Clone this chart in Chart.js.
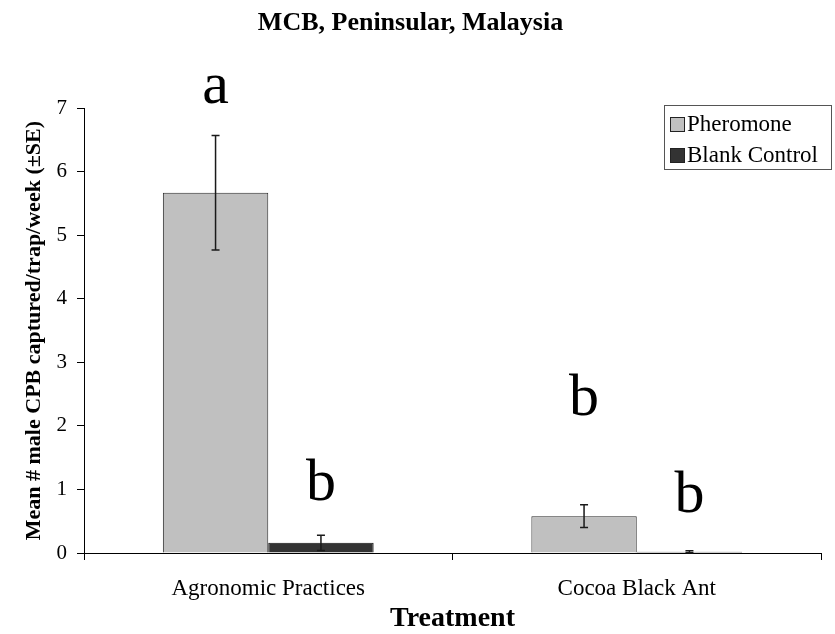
<!DOCTYPE html>
<html>
<head>
<meta charset="utf-8">
<script src="https://cdn.jsdelivr.net/npm/chart.js@4/dist/chart.umd.min.js"></script>
<style>
  html, body { margin: 0; padding: 0; background: #fff; }
  #wrap { width: 835px; height: 634px; }
</style>
</head>
<body>
<div id="wrap"><canvas id="chart" width="835" height="634"></canvas></div>
<script>
const categories = ["Agronomic Practices", "Cocoa Black Ant"];
const pheromone = [5.67, 0.58];
const pheromoneSE = [0.90, 0.18];
const blankControl = [0.16, 0.02];
const blankSE = [0.12, 0.015];
const yTicks = [0, 1, 2, 3, 4, 5, 6, 7];

// significance letters and the value their baseline sits at
const pheromoneLetters = ["a", "b"];
const pheromoneLetterAt = [7.08, 2.17];
const blankLetters = ["b", "b"];
const blankLetterAt = [0.84, 0.64];

const serif = "'Liberation Serif', 'Times New Roman', serif";

const errorBars = {
  id: "errorBars",
  afterDatasetsDraw(chart) {
    const ctx = chart.ctx;
    const y = chart.scales.y;
    ctx.save();
    ctx.strokeStyle = "#1a1a1a";
    ctx.lineWidth = 1.5;
    chart.data.datasets.forEach((ds, i) => {
      chart.getDatasetMeta(i).data.forEach((bar, j) => {
        const top = y.getPixelForValue(ds.data[j] + ds.se[j]);
        const bot = y.getPixelForValue(Math.max(0, ds.data[j] - ds.se[j]));
        ctx.beginPath();
        ctx.moveTo(bar.x, top);
        ctx.lineTo(bar.x, bot);
        ctx.moveTo(bar.x - 4, top);
        ctx.lineTo(bar.x + 4, top);
        ctx.moveTo(bar.x - 4, bot);
        ctx.lineTo(bar.x + 4, bot);
        ctx.stroke();
      });
    });
    ctx.restore();
  }
};

const letterMarks = {
  id: "letterMarks",
  afterDraw(chart) {
    const ctx = chart.ctx;
    const y = chart.scales.y;
    ctx.save();
    ctx.fillStyle = "#000";
    ctx.font = "60px " + serif;
    ctx.textAlign = "center";
    ctx.textBaseline = "alphabetic";
    chart.data.datasets.forEach((ds, i) => {
      chart.getDatasetMeta(i).data.forEach((bar, j) => {
        ctx.fillText(ds.letters[j], bar.x, y.getPixelForValue(ds.letterAt[j]));
      });
    });
    ctx.restore();
  }
};

const boxLegend = {
  id: "boxLegend",
  afterDraw(chart) {
    const ctx = chart.ctx;
    ctx.save();
    ctx.fillStyle = "#fff";
    ctx.fillRect(664, 105, 168, 65);
    ctx.strokeStyle = "#555";
    ctx.lineWidth = 1;
    ctx.strokeRect(664.5, 105.5, 167, 64);
    ctx.font = "23px " + serif;
    ctx.textBaseline = "middle";
    chart.data.datasets.forEach((ds, i) => {
      const rowY = 125 + i * 31;
      ctx.fillStyle = ds.backgroundColor;
      ctx.fillRect(670.5, rowY - 7.5, 14, 14);
      ctx.strokeStyle = "#222";
      ctx.strokeRect(670.5, rowY - 7.5, 14, 14);
      ctx.fillStyle = "#000";
      ctx.fillText(ds.label, 687, rowY);
    });
    ctx.restore();
  }
};

new Chart(document.getElementById("chart"), {
  type: "bar",
  data: {
    labels: categories,
    datasets: [
      {
        label: "Pheromone",
        data: pheromone,
        se: pheromoneSE,
        letters: pheromoneLetters,
        letterAt: pheromoneLetterAt,
        backgroundColor: "#c0c0c0",
        borderColor: "#2a2a2a",
        borderWidth: 1,
        categoryPercentage: 0.572,
        barPercentage: 1.0
      },
      {
        label: "Blank Control",
        data: blankControl,
        se: blankSE,
        letters: blankLetters,
        letterAt: blankLetterAt,
        backgroundColor: "#333333",
        borderColor: "#111111",
        borderWidth: 1,
        categoryPercentage: 0.572,
        barPercentage: 1.0
      }
    ]
  },
  options: {
    responsive: false,
    animation: false,
    layout: {
      padding: { top: 0, right: 14, bottom: 0, left: 0 }
    },
    scales: {
      x: {
        border: { display: true, color: "#000", width: 1 },
        grid: {
          display: true,
          offset: true,
          drawOnChartArea: false,
          drawTicks: true,
          tickLength: 7,
          color: "#000"
        },
        ticks: {
          color: "#000",
          padding: 15,
          font: { family: serif, size: 23 }
        },
        title: {
          display: true,
          text: "Treatment",
          color: "#000",
          padding: { top: 0, bottom: 0 },
          font: { family: serif, size: 28, weight: "bold", lineHeight: 1.1 }
        },
        afterFit(scale) { scale.height = 81; }
      },
      y: {
        min: 0,
        max: 7,
        border: { display: true, color: "#000", width: 1 },
        grid: {
          display: true,
          drawOnChartArea: false,
          drawTicks: true,
          tickLength: 7,
          color: "#000"
        },
        afterBuildTicks(scale) {
          scale.ticks = yTicks.map(v => ({ value: v }));
        },
        ticks: {
          color: "#000",
          padding: 10,
          font: { family: serif, size: 21 }
        },
        title: {
          display: true,
          text: "Mean # male CPB captured/trap/week (±SE)",
          color: "#000",
          padding: { top: 21, bottom: 0 },
          font: { family: serif, size: 22, weight: "bold" }
        },
        afterFit(scale) { scale.width = 84; }
      }
    },
    plugins: {
      legend: { display: false },
      tooltip: { enabled: false },
      title: {
        display: true,
        text: "MCB, Peninsular, Malaysia",
        color: "#000",
        padding: { top: 8, bottom: 69 },
        font: { family: serif, size: 26, weight: "bold" }
      }
    }
  },
  plugins: [errorBars, letterMarks, boxLegend]
});
</script>
</body>
</html>
